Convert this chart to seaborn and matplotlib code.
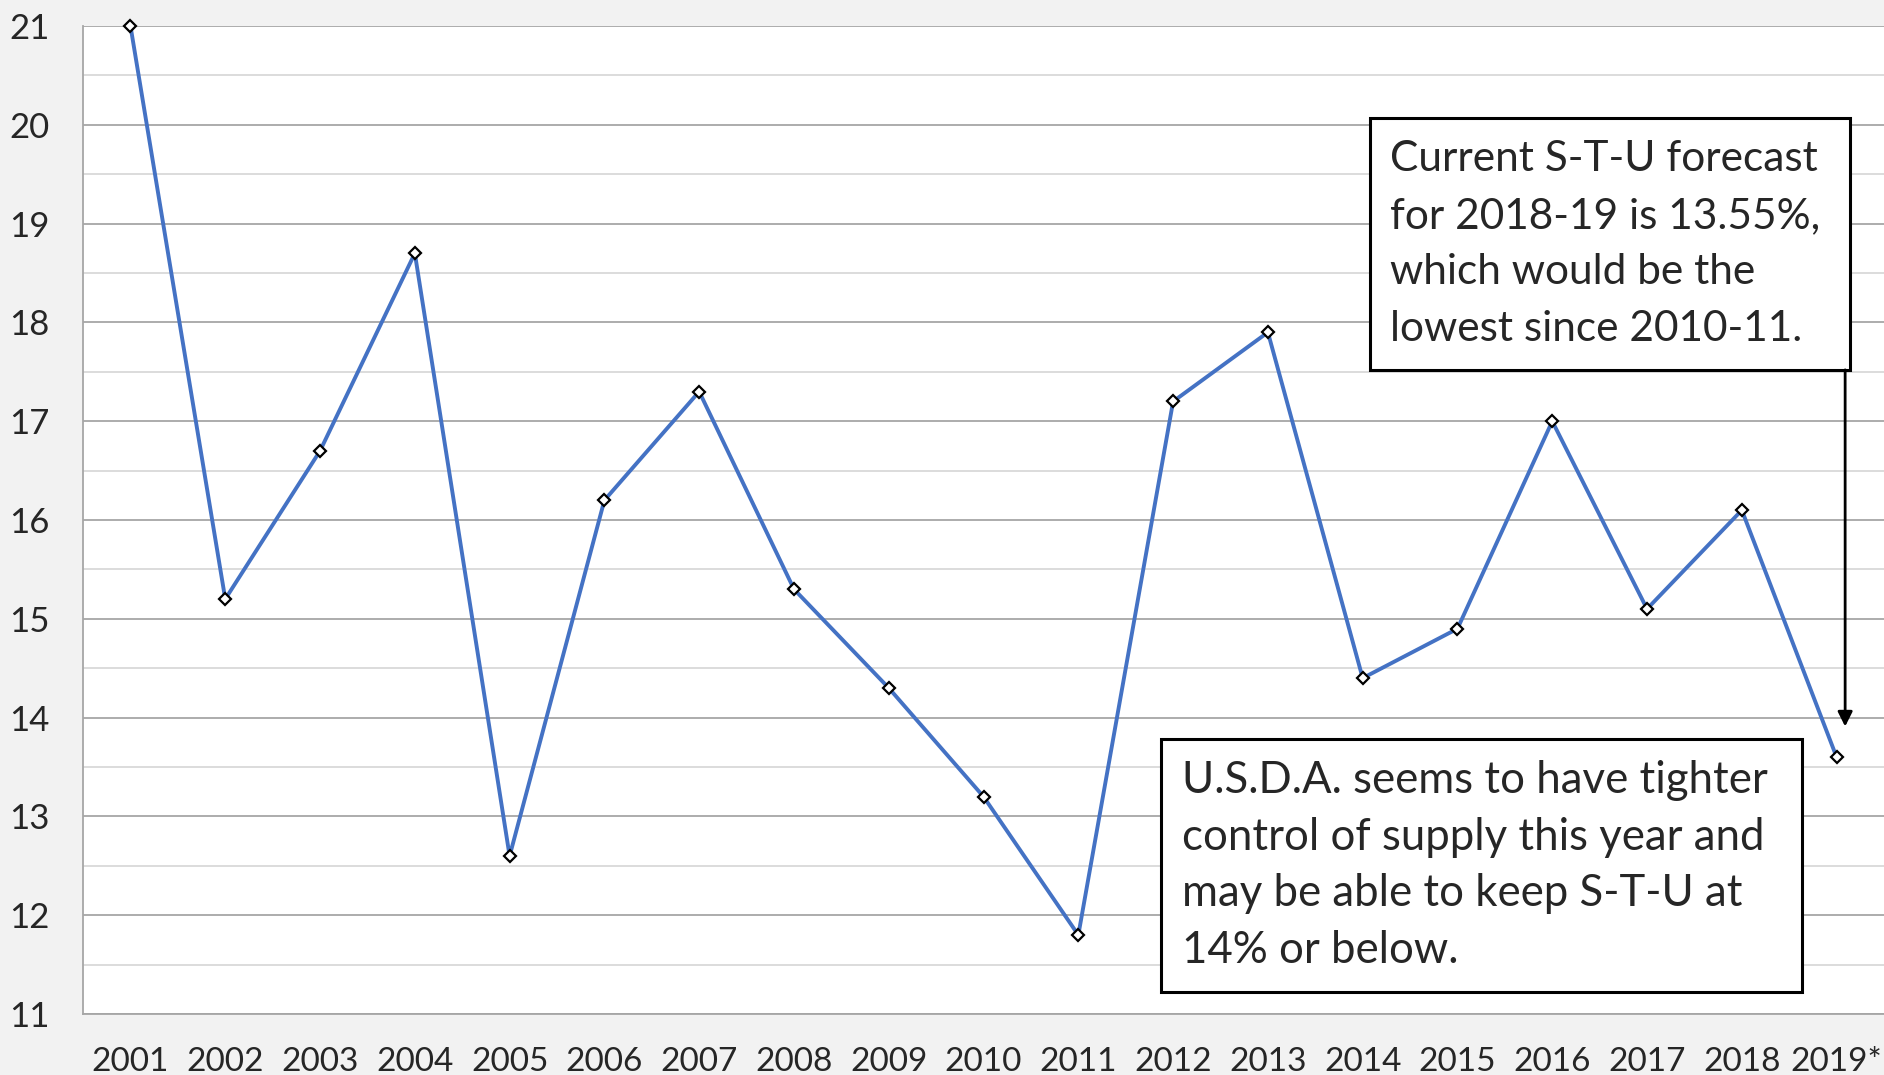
import numpy as np
import pandas as pd
import seaborn as sns
import matplotlib.pyplot as plt
from matplotlib.ticker import MultipleLocator, FixedLocator
from matplotlib.patches import Rectangle

years = ['2001', '2002', '2003', '2004', '2005', '2006', '2007', '2008', '2009', '2010',
         '2011', '2012', '2013', '2014', '2015', '2016', '2017', '2018', '2019*']
stu = [21.0, 15.2, 16.7, 18.7, 12.6, 16.2, 17.3, 15.3, 14.3, 13.2,
       11.8, 17.2, 17.9, 14.4, 14.9, 17.0, 15.1, 16.1, 13.6]

note_top = "Current S-T-U forecast\nfor 2018-19 is 13.55%,\nwhich would be the\nlowest since 2010-11."
note_bottom = ("U.S.D.A. seems to have tighter\ncontrol of supply this year and\n"
               "may be able to keep S-T-U at\n14% or below.")

df = pd.DataFrame({'year': years, 'stu': stu})

sns.set_style('white')
plt.rcParams['font.family'] = ['Lato', 'DejaVu Sans']

fig = plt.figure(figsize=(18.84, 10.75), dpi=100, facecolor='#f2f2f2')
ax = fig.add_axes([0.0441, 0.0567, 0.9559, 0.9191])
ax.set_facecolor('white')

sns.lineplot(data=df, x='year', y='stu', sort=False, ax=ax, color='#4472C4', linewidth=2.8,
             marker='D', markersize=6.5, markerfacecolor='white', markeredgecolor='black',
             markeredgewidth=1.6, zorder=3, clip_on=False)

ax.set_xlim(-0.5, len(years) - 0.5)
ax.set_ylim(11, 21)

# gridlines: integers darker, halves lighter
ax.yaxis.set_major_locator(MultipleLocator(1))
ax.yaxis.set_minor_locator(MultipleLocator(0.5))
ax.grid(axis='y', which='major', color='#a6a6a6', linewidth=1.3)
ax.grid(axis='y', which='minor', color='#d9d9d9', linewidth=1.3)
ax.set_axisbelow(True)

# category boundaries get the tick marks
ax.xaxis.set_minor_locator(FixedLocator(np.arange(-0.5, len(years), 1.0)))
ax.tick_params(axis='x', which='major', length=0, pad=24, labelsize=24)
ax.tick_params(axis='x', which='minor', length=9, width=1.3, color='#a6a6a6')
ax.tick_params(axis='y', which='major', length=8, width=1.3, color='#a6a6a6', pad=16, labelsize=25)
ax.tick_params(axis='y', which='minor', length=0)

for side in ['top', 'right']:
    ax.spines[side].set_visible(False)
for side in ['left', 'bottom']:
    ax.spines[side].set_color('#a6a6a6')
    ax.spines[side].set_linewidth(1.3)

ax.set_xlabel('')
ax.set_ylabel('')

# annotation boxes
ax.add_patch(Rectangle((0.7146, 0.6518), 0.2665, 0.2551, transform=ax.transAxes,
                       facecolor='white', edgecolor='black', linewidth=2.2, zorder=5))
ax.text(0.7257, 0.7793, note_top, transform=ax.transAxes, ha='left', va='center',
        fontsize=30.5, linespacing=1.6, zorder=6)

ax.add_patch(Rectangle((0.5986, 0.0223), 0.3559, 0.2560, transform=ax.transAxes,
                       facecolor='white', edgecolor='black', linewidth=2.2, zorder=5))
ax.text(0.6103, 0.1503, note_bottom, transform=ax.transAxes, ha='left', va='center',
        fontsize=31.5, linespacing=1.48, zorder=6)

ax.annotate('', xy=(18.09, 13.91), xytext=(18.09, 17.52), xycoords='data',
            arrowprops=dict(arrowstyle='-|>', color='black', lw=2.0, mutation_scale=22,
                            shrinkA=0, shrinkB=0), zorder=6)

fig.savefig('out.png', dpi=100, facecolor=fig.get_facecolor())
